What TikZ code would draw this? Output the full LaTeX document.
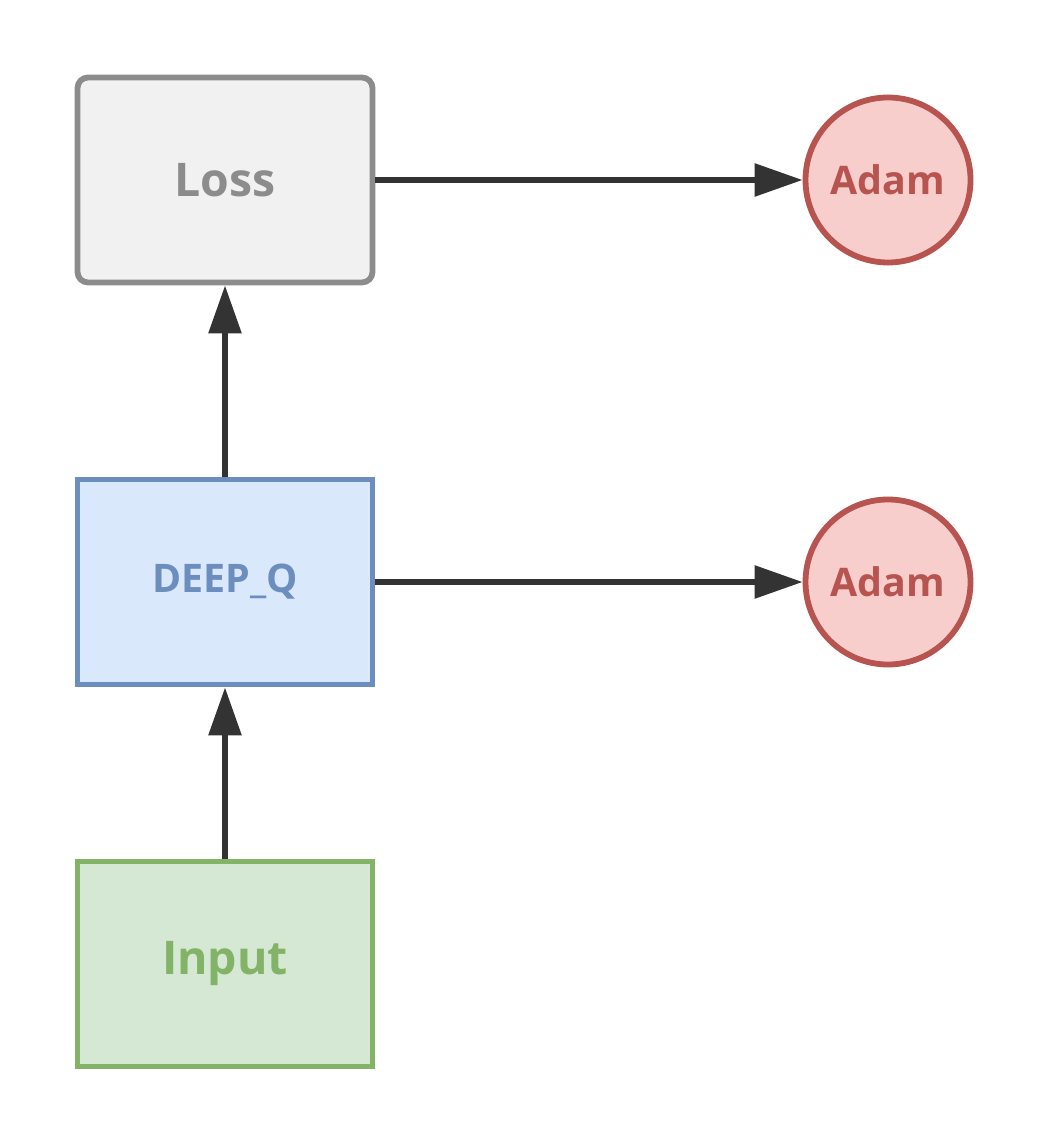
\documentclass[tikz,border=0pt]{standalone}
\usepackage{fontspec}
\setmainfont{Open Sans}
\usepackage{tikz}
\usetikzlibrary{arrows.meta,positioning}
\definecolor{lsdraw}{HTML}{8C8C8C}
\definecolor{lsfill}{HTML}{F1F1F1}
\definecolor{dqdraw}{HTML}{6C8EBF}
\definecolor{dqfill}{HTML}{DAE8FC}
\definecolor{indraw}{HTML}{82B366}
\definecolor{infill}{HTML}{D5E8D4}
\definecolor{opdraw}{HTML}{B85450}
\definecolor{opfill}{HTML}{F8CECC}
\definecolor{edg}{HTML}{333333}
\tikzset{
  blk/.style={rectangle,minimum width=2.95cm,minimum height=2.05cm,inner sep=0pt,line width=1.65pt,
    font=\fontsize{13.2}{16}\selectfont\bfseries},
  lossb/.style={blk,rounded corners=3pt,draw=lsdraw,fill=lsfill,text=lsdraw},
  netb/.style={blk,draw=dqdraw,fill=dqfill,text=dqdraw,font=\fontsize{11.2}{14}\selectfont\bfseries},
  inb/.style={blk,draw=indraw,fill=infill,text=indraw},
  opt/.style={circle,minimum size=1.65cm,inner sep=0pt,line width=1.65pt,draw=opdraw,fill=opfill,text=opdraw,
    font=\fontsize{11.2}{14}\selectfont\bfseries},
  flw/.style={-{Triangle[length=4.8mm,width=3.2mm]},line width=1.65pt,draw=edg,fill=edg},
}
\begin{document}
\begin{tikzpicture}
\useasboundingbox (0,0) rectangle (10.47,-11.44);
\node[lossb] (loss) at (2.25,-1.80) {Loss};
\node[netb] (dq) at (2.25,-5.82) {DEEP\_Q};
\node[inb] (inp) at (2.25,-9.64) {Input};
\node[opt] (adam1) at (8.88,-1.80) {Adam};
\node[opt] (adam2) at (8.88,-5.82) {Adam};
% forward pass upward, then each block hands its parameters to an optimiser
\draw[flw] (inp) -- (dq);
\draw[flw] (dq) -- (loss);
\draw[flw] (loss) -- (adam1);
\draw[flw] (dq) -- (adam2);
\end{tikzpicture}
\end{document}
